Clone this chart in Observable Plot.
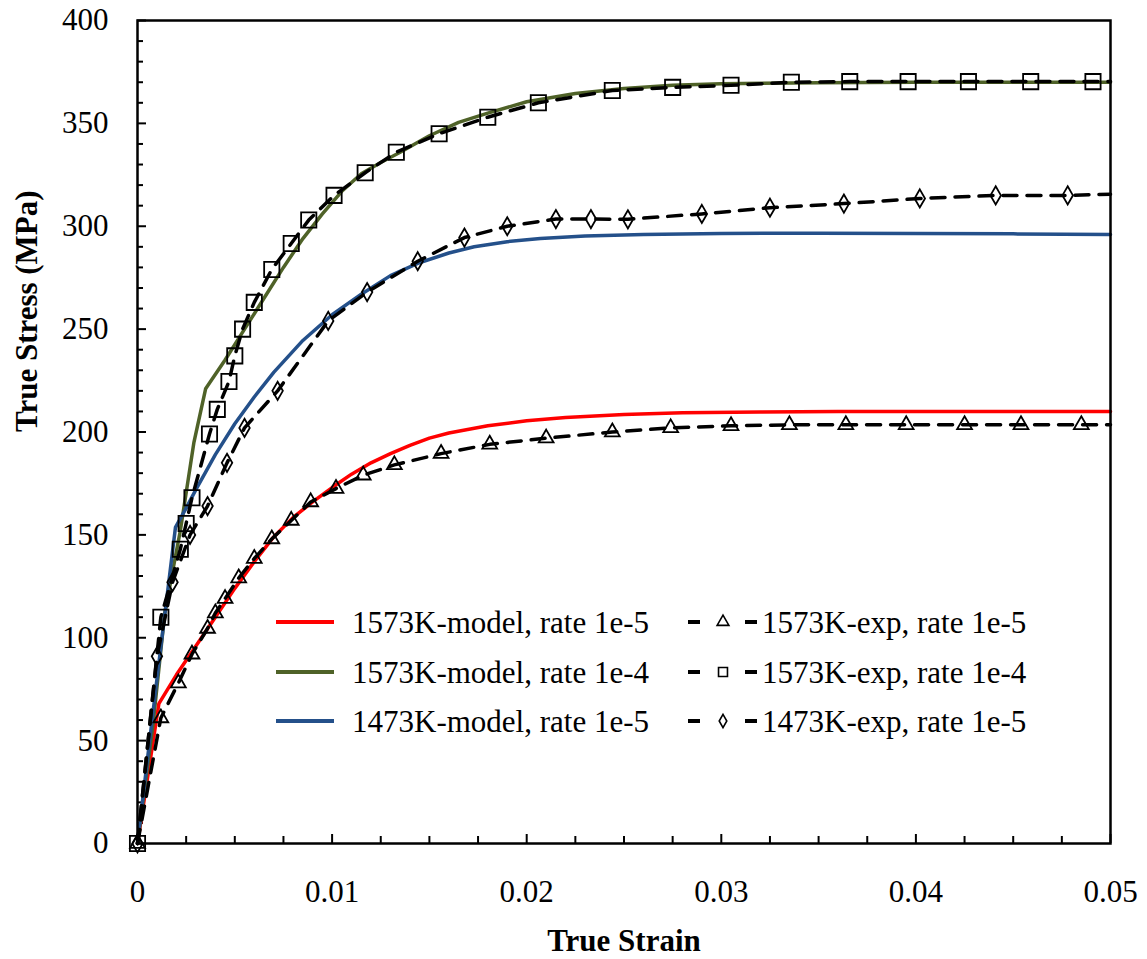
<!DOCTYPE html>
<html><head><meta charset="utf-8">
<script src="https://cdn.jsdelivr.net/npm/d3@7"></script>
<script src="https://cdn.jsdelivr.net/npm/@observablehq/plot@0.6"></script>
<style>
body{margin:0;background:#fff;}
#wrap{position:relative;width:1147px;height:959px;}
.leg{position:absolute;font-family:"Liberation Serif","Times New Roman",serif;font-size:31px;line-height:1;white-space:nowrap;display:flex;align-items:center;color:#000;}
.leg svg{display:block;}
#wrap svg text{font-family:"Liberation Serif","Times New Roman",serif;}
</style></head><body><div id="wrap"></div>
<script>
// ---- data ----
const redModelX = [0, 0.0011, 0.002, 0.003, 0.004, 0.005, 0.006, 0.007, 0.008, 0.009, 0.010, 0.011, 0.012, 0.013, 0.014, 0.015, 0.016, 0.018, 0.020, 0.022, 0.025, 0.028, 0.032, 0.036, 0.040, 0.045, 0.050];
const redModelY = [0, 68, 82, 96, 110, 124, 137, 149, 158.5, 166, 173, 179.5, 185, 189.5, 193.5, 197, 199.5, 203, 205.5, 207, 208.5, 209.3, 209.7, 210, 210, 210, 210];

const greenModelX = [0, 0.0008, 0.0014, 0.0022, 0.0029, 0.0035, 0.0045, 0.0055, 0.0065, 0.0075, 0.0085, 0.0095, 0.0105, 0.0115, 0.0125, 0.0135, 0.015, 0.0165, 0.018, 0.020, 0.0225, 0.025, 0.0275, 0.030, 0.035, 0.040, 0.050];
const greenModelY = [0, 58, 112, 152, 195, 221, 235, 250, 265, 280, 294, 306, 317, 325.5, 331, 336, 344, 350.5, 355, 360.5, 364.5, 367, 368.5, 369.3, 369.8, 370, 370];

const blueModelX = [0, 0.001, 0.00195, 0.0025, 0.003, 0.004, 0.005, 0.006, 0.007, 0.0085, 0.010, 0.0115, 0.013, 0.0144, 0.016, 0.0173, 0.019, 0.0207, 0.023, 0.026, 0.030, 0.035, 0.040, 0.045, 0.050];
const blueModelY = [0, 80, 153.6, 163, 172, 189, 204, 217, 229, 244.5, 257, 267, 276, 282, 287, 290, 292.5, 294, 295.3, 296, 296.5, 296.6, 296.5, 296.3, 296];

const triExpX = [0, 0.0012, 0.0021, 0.0028, 0.0036, 0.004, 0.0045, 0.0052, 0.006, 0.0069, 0.0079, 0.0089, 0.0102, 0.0116, 0.0132, 0.0156, 0.0181, 0.021, 0.0244, 0.0274, 0.0305, 0.0335, 0.0364, 0.0395, 0.0425, 0.0454, 0.0485, 0.050];
const triExpY = [0, 61, 78, 92, 104.5, 112, 119, 129, 138.5, 148, 157, 166, 172.5, 179, 184, 189.5, 194, 197, 200, 202, 203, 203.5, 203.5, 203.5, 203.5, 203.5, 203.5, 203.5];

const sqExpX = [0, 0.0012, 0.0022, 0.0025, 0.0028, 0.0037, 0.0041, 0.0047, 0.005, 0.0054, 0.006, 0.0069, 0.0079, 0.0088, 0.0101, 0.0117, 0.0133, 0.0155, 0.018, 0.0206, 0.0244, 0.0275, 0.0305, 0.0336, 0.0366, 0.0396, 0.0427, 0.0459, 0.0491, 0.050];
const sqExpY = [0, 110, 143, 155.5, 168, 199, 211, 224.5, 237, 250, 263, 279, 291.6, 303, 315, 326, 336, 345, 353, 360, 366, 367.5, 368.5, 370, 370.3, 370.3, 370.3, 370.3, 370.3, 370.3];

const diaExpX = [0, 0.001, 0.0018, 0.0027, 0.0036, 0.0046, 0.0055, 0.0072, 0.0098, 0.0118, 0.0144, 0.0168, 0.019, 0.0215, 0.0233, 0.0252, 0.029, 0.0325, 0.0363, 0.0402, 0.0441, 0.0478, 0.050];
const diaExpY = [0, 91, 127, 150, 164, 185, 202, 220, 254, 268, 283, 294.5, 300, 303.5, 303.5, 303.4, 306, 309, 311, 313.5, 315, 315, 315.6];

const xTickLabels = [0, 0.01, 0.02, 0.03, 0.04, 0.05];
const yTickLabels = [0, 50, 100, 150, 200, 250, 300, 350, 400];
const xMinor = d3.range(0, 0.0501, 0.0025).filter(v => Math.abs(v / 0.01 - Math.round(v / 0.01)) > 1e-6);
const yMinor = d3.range(0, 401, 10).filter(v => v % 50 !== 0);

const xLabel = "True Strain";
const yLabel = "True Stress (MPa)";

const seriesNames = ["1573K-model, rate 1e-5", "1573K-model, rate 1e-4", "1473K-model, rate 1e-5",
                     "1573K-exp, rate 1e-5", "1573K-exp, rate 1e-4", "1473K-exp, rate 1e-5"];
const colors = {red: "#ff0000", green: "#4f6228", blue: "#24508a"};

// ---- build ----
const toPts = (xs, ys) => xs.map((x, i) => ({x, y: ys[i]}));
const redM = toPts(redModelX, redModelY);
const greenM = toPts(greenModelX, greenModelY);
const blueM = toPts(blueModelX, blueModelY);
const triE = toPts(triExpX, triExpY);
const sqE = toPts(sqExpX, sqExpY);
const diaE = toPts(diaExpX, diaExpY);
const dropLast = a => a.slice(0, -1);

const W = 1147, H = 959, mL = 137, mR = 37, mT = 20, mB = 116;
const pW = W - mL - mR, pH = H - mT - mB;
const font = '"Liberation Serif","Times New Roman",serif';
const dash = "14,10";

const chart = Plot.plot({
  width: W, height: H,
  marginLeft: mL, marginRight: mR, marginTop: mT, marginBottom: mB,
  style: {fontFamily: font, fontSize: "31px", color: "#000", background: "#fff"},
  x: {domain: [0, 0.05]},
  y: {domain: [0, 400]},
  marks: [
    Plot.ruleX(xMinor, {x: d => d, insetTop: pH - 7, stroke: "#000", strokeWidth: 2}),
    Plot.ruleX(xTickLabels, {x: d => d, insetTop: pH - 9, stroke: "#000", strokeWidth: 2}),
    Plot.ruleY(yMinor, {y: d => d, insetRight: pW - 6, stroke: "#000", strokeWidth: 2}),
    Plot.ruleY(yTickLabels, {y: d => d, insetRight: pW - 9, stroke: "#000", strokeWidth: 2}),
    Plot.axisX({ticks: xTickLabels, tickSize: 0, tickPadding: 36, label: null, fontSize: 31, fontFamily: font,
                tickFormat: d => d === 0 ? "0" : String(d)}),
    Plot.axisY({ticks: yTickLabels, tickSize: 0, tickPadding: 29, label: null, fontSize: 31, fontFamily: font}),
    Plot.line(redM, {x: "x", y: "y", stroke: colors.red, strokeWidth: 3.5}),
    Plot.line(greenM, {x: "x", y: "y", stroke: colors.green, strokeWidth: 3.5}),
    Plot.line(blueM, {x: "x", y: "y", stroke: colors.blue, strokeWidth: 3.5}),
    Plot.line(triE, {x: "x", y: "y", stroke: "#000", strokeWidth: 3.5, strokeDasharray: dash}),
    Plot.line(sqE, {x: "x", y: "y", stroke: "#000", strokeWidth: 3.5, strokeDasharray: dash}),
    Plot.line(diaE, {x: "x", y: "y", stroke: "#000", strokeWidth: 3.5, strokeDasharray: dash}),
    Plot.dot(dropLast(triE), {x: "x", y: "y", symbol: "triangle", r: 5.5, stroke: "#000", fill: "none", strokeWidth: 1.8}),
    Plot.dot(dropLast(sqE), {x: "x", y: "y", symbol: "square", r: 8.6, stroke: "#000", fill: "none", strokeWidth: 1.8}),
    Plot.dot(dropLast(diaE), {x: "x", y: "y", symbol: "diamond", r: 5.5, stroke: "#000", fill: "none", strokeWidth: 1.8}),
    Plot.frame({stroke: "#000", strokeWidth: 2.5}),
    Plot.text([xLabel], {text: d => d, frameAnchor: "bottom", dy: 107, fontWeight: "bold", fontSize: 31, fontFamily: font}),
    Plot.text([yLabel], {text: d => d, frameAnchor: "left", dx: -110, rotate: -90, fontWeight: "bold", fontSize: 31, fontFamily: font})
  ]
});
const wrap = document.getElementById("wrap");
wrap.appendChild(chart);

// ---- legend (HTML overlay inside the plot area) ----
const rowsY = [622, 672, 721];
const modelColors = [colors.red, colors.green, colors.blue];
const symbols = [d3.symbolTriangle, d3.symbolSquare, d3.symbolDiamond];
const symSizes = [60, 80, 50];
function addLegend(left, cy, svgHtml, label) {
  const div = document.createElement("div");
  div.className = "leg";
  div.style.left = left + "px";
  div.style.top = (cy - 16) + "px";
  div.style.height = "32px";
  div.innerHTML = svgHtml + `<span>${label}</span>`;
  wrap.appendChild(div);
}
rowsY.forEach((cy, i) => {
  addLegend(276, cy,
    `<svg width="76" height="12"><line x1="0" x2="58" y1="6" y2="6" stroke="${modelColors[i]}" stroke-width="4"/></svg>`,
    seriesNames[i]);
  const p = d3.symbol(symbols[i], symSizes[i])();
  addLegend(688, cy,
    `<svg width="74" height="20"><line x1="0" x2="12" y1="10" y2="10" stroke="#000" stroke-width="4"/>` +
    `<path d="${p}" transform="translate(35,10)" fill="none" stroke="#000" stroke-width="1.6"/>` +
    `<line x1="57" x2="69" y1="10" y2="10" stroke="#000" stroke-width="4"/></svg>`,
    seriesNames[i + 3]);
});
</script></body></html>
